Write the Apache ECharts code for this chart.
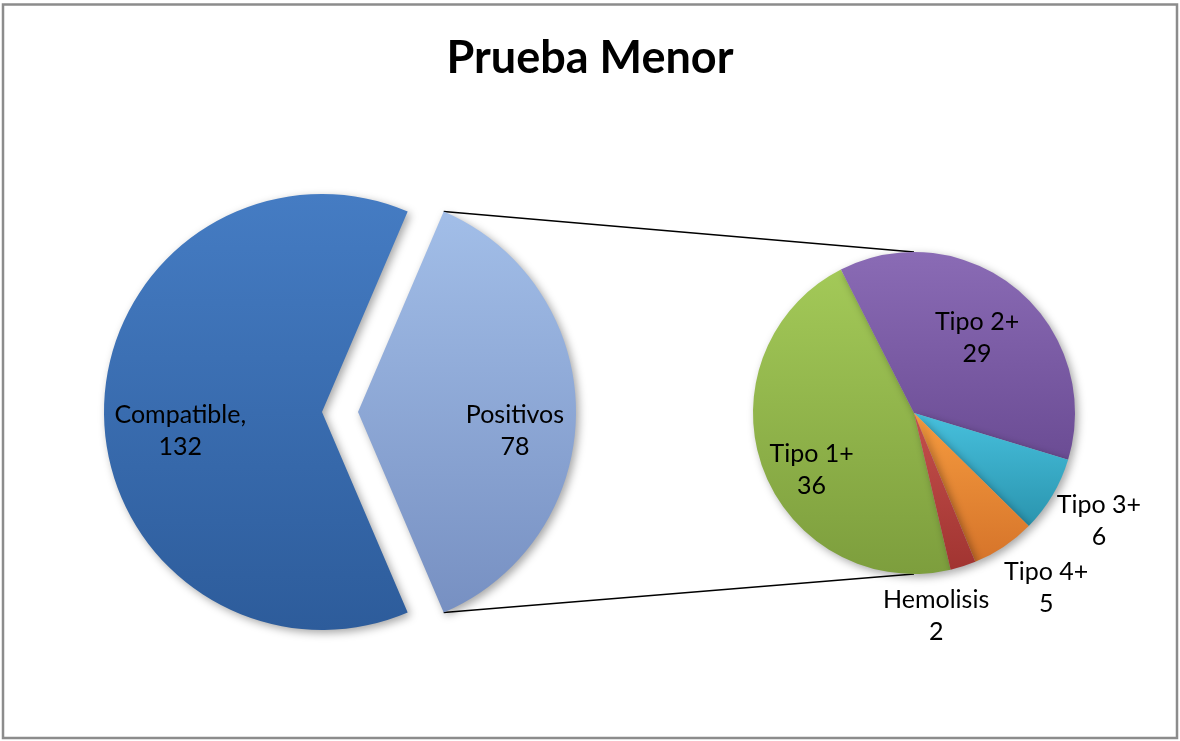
<!DOCTYPE html>
<html>
<head>
<meta charset="utf-8">
<script src="https://cdn.jsdelivr.net/npm/echarts@6/dist/echarts.min.js"></script>
<style>
  html, body { margin: 0; padding: 0; background: #ffffff; }
  #chart { width: 1180px; height: 741px; }
</style>
</head>
<body>
<div id="chart"></div>
<script>
// ---- Data ----
const titleText = 'Prueba Menor';
const mainCategories = ['Compatible', 'Positivos'];
const mainValues = [132, 78];
const subCategories = ['Tipo 1+', 'Tipo 2+', 'Tipo 3+', 'Tipo 4+', 'Hemolisis'];
const subValues = [36, 29, 6, 5, 2];

// ---- Layout / style ----
const FONT = 'Lato, "Open Sans", sans-serif';
const MAIN = { cx: 322, cy: 412, r: 218, explode: 36 };
const SUB = { cx: 914, cy: 413, r: 161, startAngle: 283.15 };
const mainColors = [['#457cc3', '#2d5c9b'], ['#a2bee8', '#7790c2']];
const subColors = [['#a3c958', '#7d9e3d'], ['#8a6bb5', '#6b4c94'], ['#47c0dd', '#2a94ae'],
                   ['#f59b3f', '#d6742a'], ['#c4504c', '#a13431']];
const mainLabelCfg = [{ f: 0.65, off: [0, 19] }, { f: 0.72, off: [0, 19] }];
const subLabelCfg = [{ f: 0.73, off: [8, 17] }, { f: 0.61, off: [0, 0] }, { f: 1.336, off: [0, -2] },
                     { f: 1.36, off: [10, -7] }, { f: 1.265, off: [-40, 9] }];

const sum = a => a.reduce((s, v) => s + v, 0);
const mainTotal = sum(mainValues);
const posAngle = mainValues[1] / mainTotal * 360;
const mainStart = 360 - posAngle / 2;  // Positivos centred on the right

function midAngles(values, start) {
  const total = sum(values);
  let acc = 0;
  return values.map(v => { const m = start - (acc + v / 2) / total * 360; acc += v; return m; });
}
const mainMid = midAngles(mainValues, mainStart);
const subMid = midAngles(subValues, SUB.startAngle);

function grad(c) {
  return { type: 'linear', x: 0, y: 0, x2: 0, y2: 1,
           colorStops: [{ offset: 0, color: c[0] }, { offset: 1, color: c[1] }] };
}
const shadow = { shadowBlur: 8, shadowColor: 'rgba(0,0,0,0.35)', shadowOffsetX: 3, shadowOffsetY: 3 };
const labelBase = { show: true, position: 'inside', color: '#000', fontFamily: FONT, fontSize: 25, lineHeight: 32, align: 'center' };

function placeLabel(cx, cy, r, mid, cfg) {
  const a = mid * Math.PI / 180;
  return { x: cx + cfg.f * r * Math.cos(a) + cfg.off[0], y: cy - cfg.f * r * Math.sin(a) + cfg.off[1],
           align: 'center', verticalAlign: 'middle' };
}

// main pie: two series, the second shifted right for the exploded slice
function mainData(visibleIndex) {
  return mainCategories.map((name, i) => {
    const vis = i === visibleIndex;
    return {
      name, value: mainValues[i],
      itemStyle: vis ? Object.assign({ color: grad(mainColors[i]) }, shadow) : { color: 'transparent' },
      label: vis ? Object.assign({}, labelBase, { formatter: i === 0 ? '{b},\n{c}' : '{b}\n{c}' }) : { show: false }
    };
  });
}

const ex = MAIN.explode;
const mainSeries = [0, 1].map(idx => ({
  type: 'pie',
  center: [MAIN.cx + (idx === 1 ? ex : 0), MAIN.cy],
  radius: [0, MAIN.r],
  startAngle: mainStart,
  clockwise: true,
  avoidLabelOverlap: false,
  silent: true,
  animation: false,
  labelLine: { show: false },
  emphasis: { disabled: true },
  data: mainData(idx),
  labelLayout: p => placeLabel(MAIN.cx + (idx === 1 ? ex : 0), MAIN.cy, MAIN.r, mainMid[p.dataIndex], mainLabelCfg[p.dataIndex])
}));

const subSeries = {
  type: 'pie',
  center: [SUB.cx, SUB.cy],
  radius: [0, SUB.r],
  startAngle: SUB.startAngle,
  clockwise: true,
  avoidLabelOverlap: false,
  silent: true,
  animation: false,
  labelLine: { show: false },
  emphasis: { disabled: true },
  data: subCategories.map((name, i) => ({
    name, value: subValues[i],
    itemStyle: Object.assign({ color: grad(subColors[i]) }, shadow),
    label: Object.assign({}, labelBase, { formatter: '{b}\n{c}' })
  })),
  labelLayout: p => placeLabel(SUB.cx, SUB.cy, SUB.r, subMid[p.dataIndex], subLabelCfg[p.dataIndex])
};

// connector lines from the exploded slice corners to top / bottom of the secondary pie
const ha = posAngle / 2 * Math.PI / 180;
const cornerX = MAIN.cx + ex + MAIN.r * Math.cos(ha);
const cornerTop = MAIN.cy - MAIN.r * Math.sin(ha);
const cornerBot = MAIN.cy + MAIN.r * Math.sin(ha);

const chart = echarts.init(document.getElementById('chart'), null, { renderer: 'canvas' });
chart.setOption({
  backgroundColor: '#ffffff',
  animation: false,
  title: {
    text: titleText, left: 'center', top: 31,
    textStyle: { fontFamily: FONT, fontSize: 45, fontWeight: 'bold', color: '#000' }
  },
  graphic: [
    { type: 'rect', shape: { x: 3, y: 4.5, width: 1174, height: 733.5 },
      style: { fill: 'none', stroke: '#8c8c8c', lineWidth: 2.5 }, z: 0 },
    { type: 'line', shape: { x1: cornerX, y1: cornerTop, x2: SUB.cx, y2: SUB.cy - SUB.r },
      style: { stroke: '#000', lineWidth: 1.6 }, z: 0 },
    { type: 'line', shape: { x1: cornerX, y1: cornerBot, x2: SUB.cx, y2: SUB.cy + SUB.r },
      style: { stroke: '#000', lineWidth: 1.6 }, z: 0 }
  ],
  series: mainSeries.concat([subSeries])
});
</script>
</body>
</html>
